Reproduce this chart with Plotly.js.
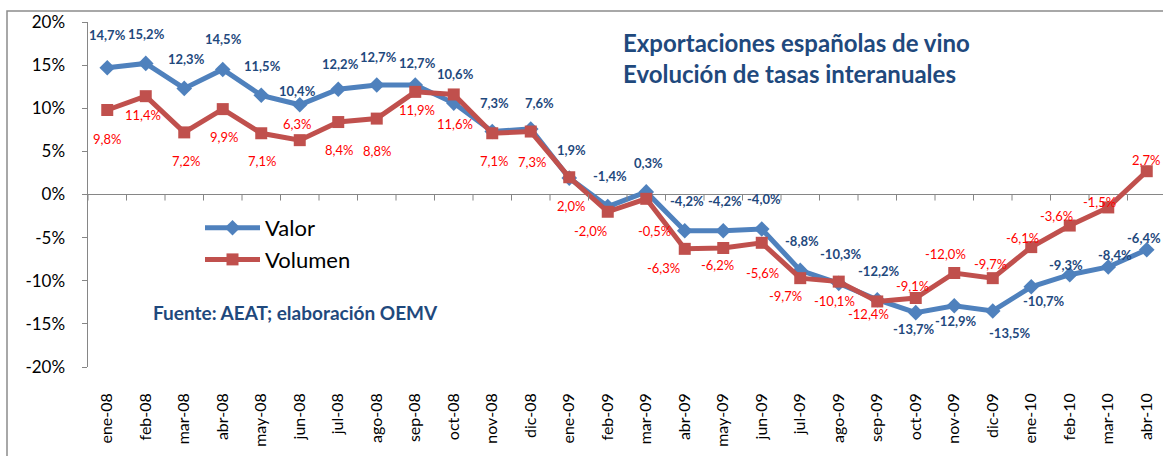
<!DOCTYPE html>
<html><head><meta charset="utf-8">
<script src="https://cdn.plot.ly/plotly-3.0.1.min.js"></script>
<style>html,body{margin:0;padding:0;background:#fff}#chart{width:1163px;height:456px}</style>
</head><body><div id="chart"></div>
<script>
// ---- data ----
const meses = ['ene-08','feb-08','mar-08','abr-08','may-08','jun-08','jul-08','ago-08','sep-08','oct-08','nov-08','dic-08',
  'ene-09','feb-09','mar-09','abr-09','may-09','jun-09','jul-09','ago-09','sep-09','oct-09','nov-09','dic-09',
  'ene-10','feb-10','mar-10','abr-10'];
const valor = [14.7,15.2,12.3,14.5,11.5,10.4,12.2,12.7,12.7,10.6,7.3,7.6,
  1.9,-1.4,0.3,-4.2,-4.2,-4.0,-8.8,-10.3,-12.2,-13.7,-12.9,-13.5,
  -10.7,-9.3,-8.4,-6.4];
const volumen = [9.8,11.4,7.2,9.9,7.1,6.3,8.4,8.8,11.9,11.6,7.1,7.3,
  2.0,-2.0,-0.5,-6.3,-6.2,-5.6,-9.7,-10.1,-12.4,-12.0,-9.1,-9.7,
  -6.1,-3.6,-1.5,2.7];
// data labels as printed in the picture
const etiquetasVolumen = ['9,8%','11,4%','7,2%','9,9%','7,1%','6,3%','8,4%','8,8%','11,9%','11,6%','7,1%','7,3%',
  '2,0%','-2,0%','-0,5%','-6,3%','-6,2%','-5,6%','-9,7%','-10,1%','-12,4%','-9,1%','-12,0%','-9,7%',
  '-6,1%','-3,6%','-1,5%','2,7%'];
const ticksY = [-20,-15,-10,-5,0,5,10,15,20];

// ---- label placement (pixel offsets dx, dy; dy positive = down) ----
const offValor = [[0,-33],[1,-29],[2,-29],[1,-30],[1,-29],[-2,-14],[2,-25],[2,-28],[2,-22],[2,-29],[2,-29],[9,-26],
  [2,-28],[2,-31],[2,-29],[2,-30],[2,-30],[2,-30],[2,-29],[2,-29],[2,-29],[-2,16],[2,15],[17,22],
  [13,14],[-4,-10],[7,-12],[-3,-12]];
const offVol = [[0,29],[-3,19],[2,29],[1,28],[1,28],[-3,-16],[1,28],[0,32],[2,18],[1,30],[2,28],[1,30],
  [2,29],[-17,19],[8,32],[-21,19],[-6,17],[1,30],[-15,18],[-4,19],[-9,13],[-3,-12],[-9,-19],[-2,-14],
  [-9,-9],[-13,-10],[-9,-5],[-1,-11]];

const FONT = 'Lato, "Open Sans", "DejaVu Sans", sans-serif';
const fmt = v => v.toFixed(1).replace('.', ',') + '%';

const traces = [
  {x: meses, y: valor, name: 'Valor', type: 'scatter', mode: 'lines+markers',
   line: {color: '#4F81BD', width: 5}, marker: {symbol: 'diamond', size: 12, color: '#4F81BD'}},
  {x: meses, y: volumen, name: 'Volumen', type: 'scatter', mode: 'lines+markers',
   line: {color: '#C0504D', width: 5}, marker: {symbol: 'square', size: 12, color: '#C0504D'}}
];

const annotations = [];
meses.forEach((m, i) => {
  annotations.push({x: m, y: valor[i], xref: 'x', yref: 'y', text: '<b>' + fmt(valor[i]) + '</b>', showarrow: false,
    xshift: offValor[i][0], yshift: -offValor[i][1], font: {family: FONT, size: 13, color: '#1F497D'}});
  annotations.push({x: m, y: volumen[i], xref: 'x', yref: 'y', text: etiquetasVolumen[i], showarrow: false,
    xshift: offVol[i][0], yshift: -offVol[i][1], font: {family: FONT, size: 13, color: '#FF0000'}});
});

// pixel -> paper helpers for decorations
const L = 88, W = 1075, T = 22, H = 345, BOT = T + H;
const px = p => (p - L) / W, py = p => (BOT - p) / H;

annotations.push({xref: 'paper', yref: 'paper', x: px(621), y: py(43), xanchor: 'left', yanchor: 'middle', showarrow: false,
  text: '<b>Exportaciones españolas de vino</b>', font: {family: FONT, size: 24, color: '#1F497D'}});
annotations.push({xref: 'paper', yref: 'paper', x: px(621), y: py(73), xanchor: 'left', yanchor: 'middle', showarrow: false,
  text: '<b>Evolución de tasas interanuales</b>', font: {family: FONT, size: 24, color: '#1F497D'}});
annotations.push({xref: 'paper', yref: 'paper', x: px(151), y: py(312), xanchor: 'left', yanchor: 'middle', showarrow: false,
  text: '<b>Fuente: AEAT; elaboración OEMV</b>', font: {family: FONT, size: 19, color: '#1F497D'}});

const shapes = [];
// category-boundary tick marks hanging below the 0% line
for (let i = 0; i <= meses.length; i++) {
  shapes.push({type: 'line', xref: 'x', yref: 'y', x0: i - 0.5, x1: i - 0.5, y0: 0, y1: -0.7,
    line: {color: '#868686', width: 1}});
}
// outer chart frame
shapes.push({type: 'rect', xref: 'paper', yref: 'paper', x0: px(7), x1: px(1200), y0: py(11), y1: py(500),
  line: {color: '#8C8C8C', width: 1.5}, fillcolor: 'rgba(0,0,0,0)', layer: 'below'});

const layout = {
  width: 1163, height: 456,
  margin: {l: L, r: 0, t: T, b: 456 - BOT, pad: 0},
  paper_bgcolor: '#fff', plot_bgcolor: '#fff',
  font: {family: FONT, color: '#000'},
  showlegend: true,
  legend: {x: px(200), y: py(207), xanchor: 'left', yanchor: 'top', bgcolor: 'rgba(0,0,0,0)',
    font: {family: FONT, size: 22, color: '#000'}, tracegroupgap: 0, itemwidth: 55},
  xaxis: {type: 'category', range: [-0.5, (1163 - L) / 38.5 - 0.5], showgrid: false, zeroline: false,
    showline: false, ticks: '', tickangle: -90, ticklabelstandoff: 22,
    tickfont: {family: FONT, size: 16, color: '#000'}, fixedrange: true},
  yaxis: {range: [-20, 20], tickvals: ticksY, ticktext: ticksY.map(v => v + '%'),
    showgrid: false, zeroline: true, zerolinecolor: '#868686', zerolinewidth: 1.5,
    showline: true, linecolor: '#868686', linewidth: 1.5, ticks: 'outside', ticklen: 5, tickcolor: '#868686',
    tickfont: {family: FONT, size: 17, color: '#000'}, ticklabelstandoff: 13, fixedrange: true},
  annotations: annotations,
  shapes: shapes
};

Plotly.newPlot('chart', traces, layout, {displayModeBar: false, staticPlot: true});
</script>
</body></html>
